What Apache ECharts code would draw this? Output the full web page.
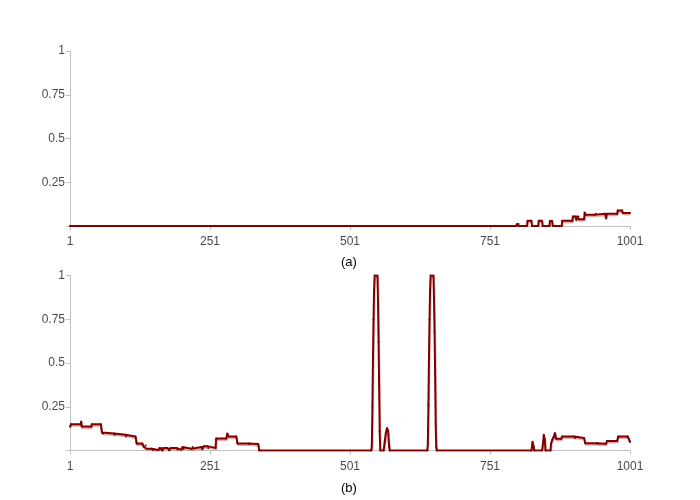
<!DOCTYPE html>
<html>
<head>
<meta charset="utf-8">
<script src="https://cdn.jsdelivr.net/npm/echarts@6/dist/echarts.min.js"></script>
<style>
    html, body { margin: 0; padding: 0; background: #fff; }
    #chart { width: 700px; height: 500px; }
</style>
</head>
<body>
<div id="chart"></div>
<script>
    // x tick labels shared by both panels
    var xTicks = [1, 251, 501, 751, 1001];
    var yTicks = [0, 0.25, 0.5, 0.75, 1];

    // panel (a): breakpoints
    var xA = [1, 798, 799, 802, 803, 817, 818, 825, 826, 837, 838, 844, 845, 857, 858, 862, 863,
        879, 880, 898, 899, 904, 905, 906, 909, 910, 919, 920, 922, 939, 940, 957, 958, 960,
        978, 979, 987, 988, 1001];
    var yA = [0, 0, 0.012, 0.012, 0, 0, 0.03, 0.03, 0, 0, 0.03, 0.03, 0, 0, 0.028, 0.028, 0,
        0, 0.03, 0.03, 0.055, 0.055, 0.035, 0.055, 0.055, 0.038, 0.038, 0.077, 0.065, 0.065, 0.07, 0.07, 0.045, 0.07,
        0.07, 0.088, 0.088, 0.075, 0.075];

    // panel (b)
    var xB = [1, 3, 20, 21, 22, 39, 40, 56, 58, 60, 80, 81, 100, 101, 118, 120, 130, 133, 136, 138,
        147, 149, 159, 161, 164, 166, 168, 175, 178, 181, 191, 193, 200, 202, 204, 218, 220, 236, 237,
        240, 246, 248, 261, 262, 280, 282, 284, 298, 300, 320, 321, 337, 339,
        539, 540, 541, 542, 543, 544, 545, 550, 551, 552, 553, 554, 555,
        561, 563, 565, 567, 569, 570, 571, 572,
        639, 640, 641, 642, 643, 644, 645, 650, 651, 652, 653, 654, 655, 656,
        825, 827, 829, 830, 844, 846, 847, 849, 850, 859, 860, 862, 865, 867, 869, 878, 880,
        901, 903, 919, 921, 942, 944, 958, 960, 978, 980, 997, 1001];
    var yB = [0.137, 0.15, 0.15, 0.166, 0.137, 0.137, 0.15, 0.15, 0.103, 0.097, 0.097, 0.09, 0.09, 0.08, 0.08, 0.04, 0.04, 0.02, 0.028, 0.01,
        0.01, 0.003, 0.003, 0.015, 0.015, 0, 0.015, 0.015, 0.002, 0.015, 0.015, 0.005, 0.005, 0.02, 0.01, 0.01, 0.02, 0.02, 0.008,
        0.025, 0.025, 0.015, 0.015, 0.069, 0.069, 0.097, 0.08, 0.08, 0.04, 0.04, 0.037, 0.037, 0,
        0, 0.03, 0.25, 0.52, 0.75, 0.92, 1, 1, 0.86, 0.62, 0.37, 0.11, 0,
        0, 0.05, 0.1, 0.128, 0.115, 0.06, 0.02, 0,
        0, 0.04, 0.26, 0.53, 0.75, 0.92, 1, 1, 0.865, 0.68, 0.44, 0.15, 0.02, 0,
        0, 0.05, 0.02, 0, 0, 0.05, 0.09, 0.06, 0, 0, 0.04, 0.06, 0.08, 0.1, 0.067, 0.067, 0.08,
        0.08, 0.071, 0.071, 0.042, 0.042, 0.038, 0.038, 0.055, 0.055, 0.08, 0.08, 0.05];

    function pairs(xs, ys) {
        var out = [];
        for (var i = 0; i < xs.length; i++) out.push([xs[i], ys[i]]);
        return out;
    }

    var axisColor = '#c0c0c0';
    var labelStyle = { color: '#4a4a4a', fontSize: 12, fontFamily: 'Liberation Sans, Arial, sans-serif' };

    function xAxisFor(idx) {
        return {
            type: 'value', gridIndex: idx, min: 1, max: 1001,
            axisLine: { lineStyle: { color: axisColor } },
            axisTick: { length: 4, lineStyle: { color: axisColor }, customValues: xTicks },
            axisLabel: Object.assign({
                margin: 10, customValues: xTicks,
                formatter: function (v) { return String(v); }
            }, labelStyle),
            splitLine: { show: false }
        };
    }
    function yAxisFor(idx) {
        return {
            type: 'value', gridIndex: idx, min: 0, max: 1, interval: 0.25,
            axisLine: { show: true, lineStyle: { color: axisColor } },
            axisTick: { show: true, length: 4, lineStyle: { color: axisColor } },
            axisLabel: Object.assign({
                margin: 5,
                formatter: function (v) { return v === 0 ? '' : String(v); }
            }, labelStyle),
            splitLine: { show: false }
        };
    }
    function lineFor(idx, data) {
        return {
            type: 'line', xAxisIndex: idx, yAxisIndex: idx, data: data,
            symbol: 'circle', symbolSize: 2, showAllSymbol: true,
            itemStyle: { color: '#7a0000' },
            lineStyle: {
                color: '#800000', width: 2,
                shadowColor: 'rgba(215,130,130,0.7)', shadowBlur: 0, shadowOffsetY: 1.5, shadowOffsetX: 0.5
            },
            animation: false
        };
    }

    var myChart = echarts.init(document.getElementById('chart'));
    var option = {
        backgroundColor: '#fff',
        animation: false,
        grid: [
            { left: 70, width: 560, top: 51, height: 175 },
            { left: 70, width: 560, top: 275.5, height: 175 }
        ],
        xAxis: [xAxisFor(0), xAxisFor(1)],
        yAxis: [yAxisFor(0), yAxisFor(1)],
        series: [lineFor(0, pairs(xA, yA)), lineFor(1, pairs(xB, yB))],
        graphic: [
            { type: 'text', left: 341, top: 256, style: { text: '(a)', fill: '#000', font: '13px Liberation Sans, Arial, sans-serif' } },
            { type: 'text', left: 341, top: 482, style: { text: '(b)', fill: '#000', font: '13px Liberation Sans, Arial, sans-serif' } }
        ]
    };
    myChart.setOption(option);
</script>
</body>
</html>
